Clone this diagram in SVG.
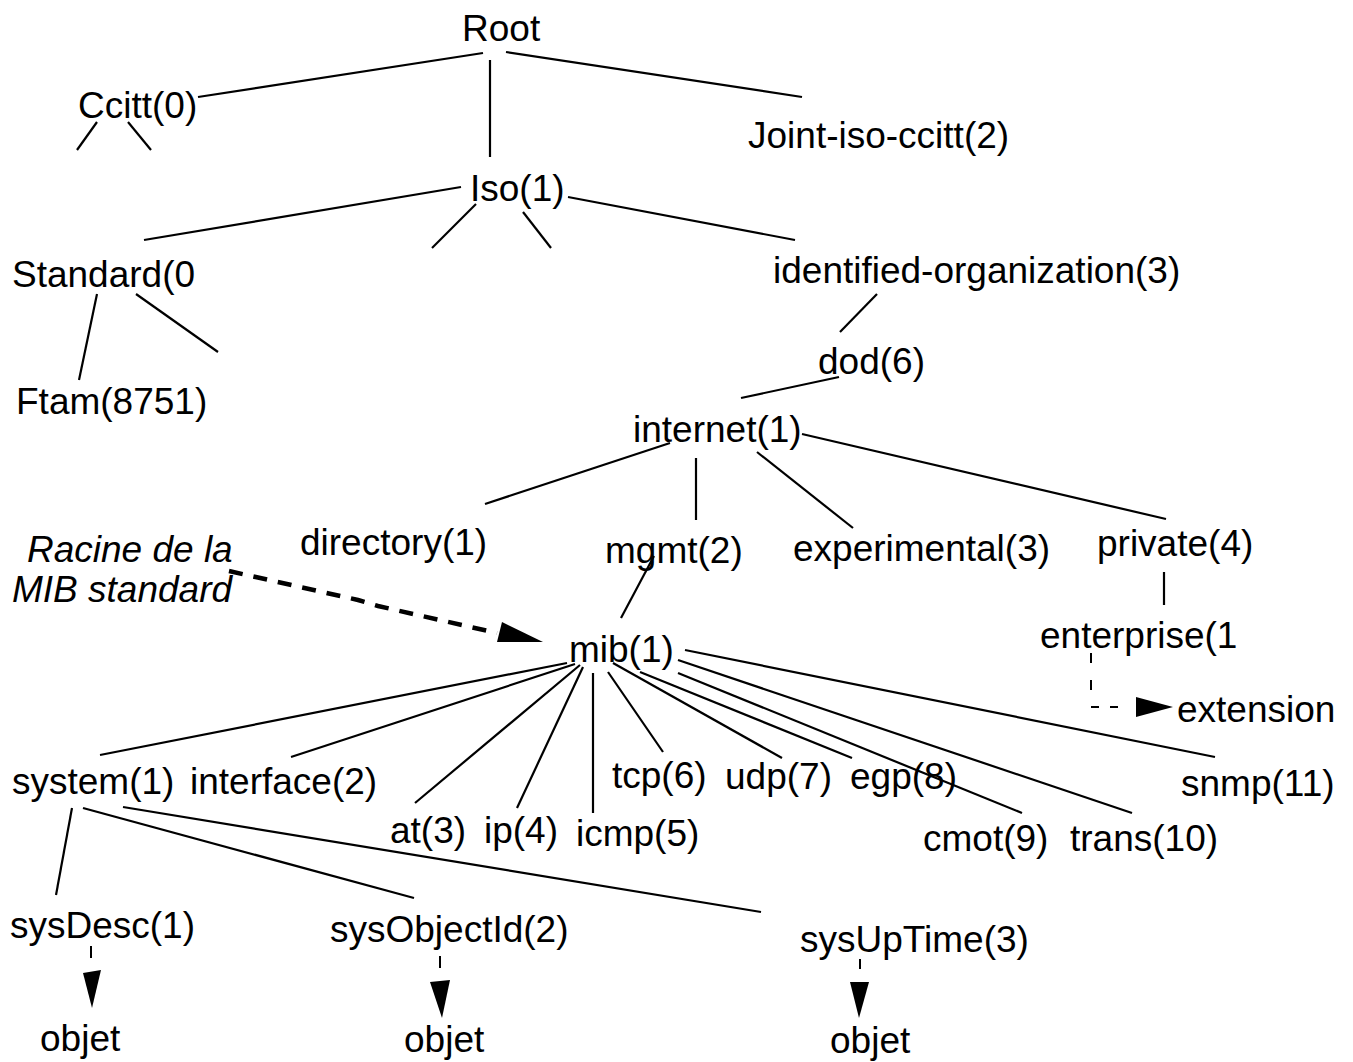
<svg xmlns="http://www.w3.org/2000/svg" width="1353" height="1062" viewBox="0 0 1353 1062">
  <style>
    text { font-family: "Liberation Sans", Arial, sans-serif; font-size: 37px; fill: #000; }
    text.note { font-style: italic; }
    .edge { stroke: #000; stroke-width: 2.2; fill: none; stroke-linecap: butt; }
    .thin { stroke: #000; stroke-width: 2; fill: none; }
    .bold-dash { stroke: #000; stroke-width: 4.5; fill: none; stroke-dasharray: 14 11; }
    .head { fill: #000; stroke: none; }
  </style>
  <rect width="1353" height="1062" fill="#fff"/>

  <!-- tree edges -->
  <g id="connectors">
    <line class="edge" x1="483" y1="53" x2="198" y2="97"/>
    <line class="edge" x1="490" y1="60" x2="490" y2="157"/>
    <line class="edge" x1="506" y1="52" x2="802" y2="97"/>
    <line class="edge" x1="97" y1="122" x2="77" y2="150"/>
    <line class="edge" x1="128" y1="122" x2="151" y2="150"/>
    <line class="edge" x1="461" y1="187" x2="144" y2="240"/>
    <line class="edge" x1="476" y1="204" x2="432" y2="248"/>
    <line class="edge" x1="523" y1="212" x2="551" y2="248"/>
    <line class="edge" x1="568" y1="197" x2="795" y2="240"/>
    <line class="edge" x1="97" y1="294" x2="79" y2="380"/>
    <line class="edge" x1="136" y1="294" x2="218" y2="352"/>
    <line class="edge" x1="877" y1="294" x2="840" y2="332"/>
    <line class="edge" x1="839" y1="377" x2="741" y2="398"/>
    <line class="edge" x1="670" y1="443" x2="485" y2="504"/>
    <line class="edge" x1="696" y1="458" x2="696" y2="520"/>
    <line class="edge" x1="757" y1="452" x2="853" y2="528"/>
    <line class="edge" x1="802" y1="434" x2="1166" y2="519"/>
    <line class="edge" x1="1164" y1="572" x2="1164" y2="605"/>
    <line class="edge" x1="654" y1="556" x2="621" y2="618"/>

    <!-- mib(1) children -->
    <line class="edge" x1="567" y1="663" x2="100" y2="755"/>
    <line class="edge" x1="575" y1="664" x2="291" y2="757"/>
    <line class="edge" x1="580" y1="665" x2="415" y2="803"/>
    <line class="edge" x1="583" y1="667" x2="517" y2="808"/>
    <line class="edge" x1="593" y1="673" x2="593" y2="813"/>
    <line class="edge" x1="608" y1="672" x2="663" y2="752"/>
    <line class="edge" x1="613" y1="663" x2="782" y2="758"/>
    <line class="edge" x1="640" y1="672" x2="852" y2="758"/>
    <line class="edge" x1="678" y1="673" x2="1022" y2="813"/>
    <line class="edge" x1="678" y1="660" x2="1132" y2="813"/>
    <line class="edge" x1="685" y1="650" x2="1215" y2="757"/>

    <!-- system(1) children -->
    <line class="edge" x1="72" y1="808" x2="56" y2="895"/>
    <line class="edge" x1="83" y1="808" x2="414" y2="898"/>
    <line class="edge" x1="123" y1="807" x2="761" y2="912"/>

    <!-- enterprise -> extension -->
    <line class="thin" x1="1091" y1="653" x2="1091" y2="663"/>
    <line class="thin" x1="1091" y1="680" x2="1091" y2="690"/>
    <line class="thin" x1="1091" y1="707" x2="1099" y2="707"/>
    <line class="thin" x1="1110" y1="707" x2="1118" y2="707"/>
    <polygon class="head" points="1136,697 1173,707 1136,717"/>

    <!-- note pointer -->
    <path class="bold-dash" d="M229,571 L358,600 L378,606 L497,633"/>
    <polygon class="head" points="502,622 543,642 497,642"/>

    <!-- objet pointers -->
    <line class="thin" x1="91" y1="946" x2="91" y2="958"/>
    <polygon class="head" points="83,973 101,970 92,1008"/>
    <line class="thin" x1="440" y1="956" x2="440" y2="968"/>
    <polygon class="head" points="430,982 450,980 442,1018"/>
    <line class="thin" x1="860" y1="959" x2="860" y2="969"/>
    <polygon class="head" points="850,982 869,982 859,1018"/>
  </g>

  <g id="n-root"><text x="462" y="41">Root</text></g>
  <g id="n-ccitt"><text x="78" y="118">Ccitt(0)</text></g>
  <g id="n-joint"><text x="748" y="148">Joint-iso-ccitt(2)</text></g>
  <g id="n-iso"><text x="470" y="201">Iso(1)</text></g>
  <g id="n-standard"><text x="12" y="287">Standard(0</text></g>
  <g id="n-identified"><text x="773" y="283">identified-organization(3)</text></g>
  <g id="n-dod"><text x="818" y="374">dod(6)</text></g>
  <g id="n-ftam"><text x="16" y="414">Ftam(8751)</text></g>
  <g id="n-internet"><text x="633" y="442">internet(1)</text></g>
  <g id="n-directory"><text x="300" y="555">directory(1)</text></g>
  <g id="n-mgmt"><text x="605" y="563">mgmt(2)</text></g>
  <g id="n-experimental"><text x="793" y="561">experimental(3)</text></g>
  <g id="n-private"><text x="1097" y="556">private(4)</text></g>
  <g id="n-note">
    <text class="note" x="27" y="562">Racine de la</text>
    <text class="note" x="12" y="602">MIB standard</text>
  </g>
  <g id="n-enterprise"><text x="1040" y="648">enterprise(1</text></g>
  <g id="n-mib"><text x="569" y="662">mib(1)</text></g>
  <g id="n-extension"><text x="1177" y="722">extension</text></g>
  <g id="n-system"><text x="12" y="794">system(1)</text></g>
  <g id="n-interface"><text x="190" y="794">interface(2)</text></g>
  <g id="n-tcp"><text x="612" y="788">tcp(6)</text></g>
  <g id="n-udp"><text x="725" y="789">udp(7)</text></g>
  <g id="n-egp"><text x="850" y="789">egp(8)</text></g>
  <g id="n-snmp"><text x="1181" y="796">snmp(11)</text></g>
  <g id="n-at"><text x="390" y="843">at(3)</text></g>
  <g id="n-ip"><text x="484" y="843">ip(4)</text></g>
  <g id="n-icmp"><text x="576" y="846">icmp(5)</text></g>
  <g id="n-cmot"><text x="923" y="851">cmot(9)</text></g>
  <g id="n-trans"><text x="1070" y="851">trans(10)</text></g>
  <g id="n-sysdesc"><text x="10" y="938">sysDesc(1)</text></g>
  <g id="n-sysobjectid"><text x="330" y="942">sysObjectId(2)</text></g>
  <g id="n-sysuptime"><text x="800" y="952">sysUpTime(3)</text></g>
  <g id="n-objet1"><text x="40" y="1051">objet</text></g>
  <g id="n-objet2"><text x="404" y="1052">objet</text></g>
  <g id="n-objet3"><text x="830" y="1053">objet</text></g>
</svg>
